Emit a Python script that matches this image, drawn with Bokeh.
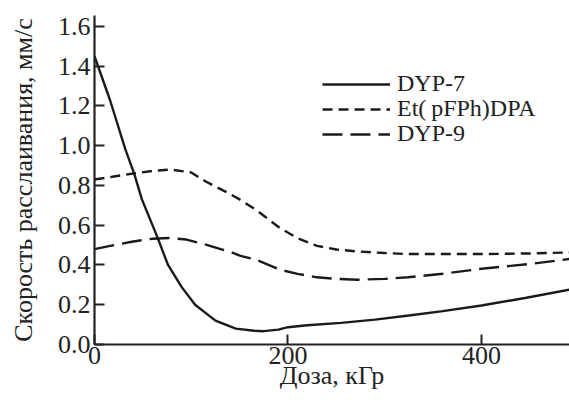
from bokeh.plotting import figure
from bokeh.models import Range1d, FixedTicker, Legend, LegendItem, CustomJSTickFormatter
from bokeh.embed import file_html
from bokeh.resources import INLINE

# ---- data ----
dose_dyp7 = [0, 16, 32, 41, 49, 65, 76, 90, 104, 125, 146, 165, 175, 190, 200, 220, 255, 290, 327, 360, 400, 445, 491]
speed_dyp7 = [1.45, 1.23, 0.98, 0.86, 0.73, 0.54, 0.40, 0.29, 0.20, 0.12, 0.08, 0.069, 0.067, 0.075, 0.087,
              0.097, 0.109, 0.125, 0.147, 0.168, 0.196, 0.234, 0.276]

dose_et = [0, 20, 40, 60, 79, 100, 115, 139, 151, 167, 192, 210, 230, 250, 272, 300, 324, 360, 400, 450, 491]
speed_et = [0.83, 0.845, 0.86, 0.873, 0.88, 0.865, 0.82, 0.76, 0.727, 0.677, 0.585, 0.535, 0.496, 0.478,
            0.468, 0.46, 0.455, 0.455, 0.455, 0.458, 0.463]

dose_dyp9 = [0, 20, 40, 60, 77, 95, 115, 139, 151, 167, 192, 210, 230, 250, 272, 300, 324, 360, 400, 450, 491]
speed_dyp9 = [0.48, 0.50, 0.518, 0.532, 0.536, 0.528, 0.502, 0.468, 0.446, 0.427, 0.376, 0.355, 0.338, 0.33,
              0.326, 0.33, 0.338, 0.356, 0.381, 0.405, 0.43]

x_ticks = [0, 200, 400]
y_ticks = [0.0, 0.2, 0.4, 0.6, 0.8, 1.0, 1.2, 1.4, 1.6]
series_names = ["DYP-7", "Et(\u2009pFPh)DPA", "DYP-9"]

FONT = "Liberation Serif"
TXT = "#222222"

p = figure(width=569, height=400, output_backend="svg", toolbar_location=None,
           x_range=Range1d(0, 491), y_range=Range1d(0, 1.655),
           min_border_left=94, min_border_right=0, min_border_top=15, min_border_bottom=56)
p.outline_line_color = None
p.xgrid.visible = False
p.ygrid.visible = False
p.background_fill_color = "white"
p.border_fill_color = "white"

for ax in (p.xaxis[0], p.yaxis[0]):
    ax.axis_line_width = 2.2
    ax.axis_line_color = TXT
    ax.major_tick_line_width = 2
    ax.major_tick_line_color = TXT
    ax.major_tick_in = 10
    ax.major_tick_out = 0
    ax.minor_tick_line_color = None
    ax.major_label_text_font = FONT
    ax.major_label_text_font_size = "26px"
    ax.major_label_text_color = TXT
    ax.axis_label_text_font = FONT
    ax.axis_label_text_font_size = "26px"
    ax.axis_label_text_font_style = "normal"
    ax.axis_label_text_color = TXT

p.xaxis.ticker = FixedTicker(ticks=x_ticks)
p.yaxis.ticker = FixedTicker(ticks=y_ticks)
p.yaxis.formatter = CustomJSTickFormatter(code="return tick.toFixed(1);")
p.xaxis.major_label_standoff = 2
p.yaxis.major_label_standoff = 4
p.xaxis.axis_label = "Доза, кГр"
p.yaxis.axis_label = "Скорость расслаивания, мм/с"
p.xaxis.axis_label_standoff = -6
p.yaxis.axis_label_standoff = 17

c = "#1a1a1a"
r1 = p.line(dose_dyp7, speed_dyp7, line_color=c, line_width=2.4)
r2 = p.line(dose_et, speed_et, line_color=c, line_width=2.4, line_dash="10 6")
r3 = p.line(dose_dyp9, speed_dyp9, line_color=c, line_width=2.4, line_dash="20 8")

legend_rows = [(series_names[0], r1, 247), (series_names[1], r2, 222), (series_names[2], r3, 197)]
for name, rend, ypos in legend_rows:
    lg = Legend(items=[LegendItem(label=name, renderers=[rend])],
                location=(228, ypos), orientation="vertical",
                border_line_color=None, background_fill_alpha=0,
                padding=0, margin=0, spacing=0,
                glyph_width=68, glyph_height=24, label_standoff=7,
                label_text_font=FONT, label_text_font_size="24px",
                label_text_color=TXT, label_height=24)
    p.add_layout(lg)

open("out.html", "w").write(file_html(p, INLINE))
